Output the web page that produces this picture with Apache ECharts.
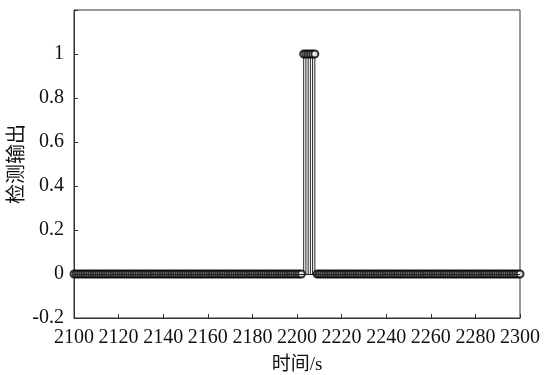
<!DOCTYPE html>
<html>
<head>
<meta charset="utf-8">
<script src="https://cdn.jsdelivr.net/npm/echarts@6/dist/echarts.min.js"></script>
<style>
  html, body { margin: 0; padding: 0; background: #fff; }
  #chart { width: 553px; height: 375px; }
</style>
</head>
<body>
<div id="chart"></div>
<script>
// sampled once per second, 2100 s .. 2300 s
const startTime = 2100
const sampleStep = 1
const detectOutput = [
    0,0,0,0,0,0,0,0,0,0,0,0,0,0,0,0,0,0,0,0,
    0,0,0,0,0,0,0,0,0,0,0,0,0,0,0,0,0,0,0,0,
    0,0,0,0,0,0,0,0,0,0,0,0,0,0,0,0,0,0,0,0,
    0,0,0,0,0,0,0,0,0,0,0,0,0,0,0,0,0,0,0,0,
    0,0,0,0,0,0,0,0,0,0,0,0,0,0,0,0,0,0,0,0,
    0,0,0,1,1,1,1,1,1,0,0,0,0,0,0,0,0,0,0,0,
    0,0,0,0,0,0,0,0,0,0,0,0,0,0,0,0,0,0,0,0,
    0,0,0,0,0,0,0,0,0,0,0,0,0,0,0,0,0,0,0,0,
    0,0,0,0,0,0,0,0,0,0,0,0,0,0,0,0,0,0,0,0,
    0,0,0,0,0,0,0,0,0,0,0,0,0,0,0,0,0,0,0,0,
    0
]
const xLabel = '时间/s'
const yLabel = '检测输出'

const points = detectOutput.map((v, i) => [startTime + i * sampleStep, v])

const font = '"Liberation Serif", "Noto Sans CJK SC", serif'
const chart = echarts.init(document.getElementById('chart'))

chart.setOption({
    animation: false,
    grid: {
        left: 74, right: 33, top: 10, bottom: 57,
        outerBoundsMode: 'none',
        containLabel: false,
        show: true, borderColor: '#333', borderWidth: 1
    },
    xAxis: {
        type: 'value',
        min: 2100, max: 2300, interval: 20,
        name: xLabel,
        nameLocation: 'middle',
        nameGap: 38,
        nameTextStyle: { fontFamily: font, fontSize: 19, color: '#111' },
        axisLine: { onZero: false, lineStyle: { color: '#333' } },
        axisTick: { inside: true, length: 4, lineStyle: { color: '#333' } },
        axisLabel: {
            fontFamily: font, fontSize: 20, color: '#111', margin: 10,
            formatter: v => String(v)
        },
        splitLine: { show: false }
    },
    yAxis: {
        type: 'value',
        min: -0.2, max: 1.2, interval: 0.2,
        name: yLabel,
        nameLocation: 'middle',
        nameGap: 46,
        nameMoveOverlap: false,
        nameTextStyle: { fontFamily: font, fontSize: 20, color: '#111' },
        axisLine: { lineStyle: { color: '#333' } },
        axisTick: { inside: true, length: 4, lineStyle: { color: '#333' } },
        axisLabel: {
            fontFamily: font, fontSize: 20, color: '#111', margin: 10,
            formatter: v => (Math.abs(v - 1.2) < 1e-9 ? '' : String(Math.round(v * 10) / 10))
        },
        splitLine: { show: false }
    },
    series: [
        {
            // stems
            type: 'bar',
            data: points,
            barWidth: 1,
            itemStyle: { color: '#222' },
            markLine: {
                silent: true,
                symbol: 'none',
                label: { show: false },
                lineStyle: { color: '#222', type: 'solid', width: 1 },
                data: [{ yAxis: 0 }]
            }
        },
        {
            type: 'scatter',
            data: points,
            symbol: 'emptyCircle',
            symbolSize: 7,
            clip: false,
            itemStyle: { color: '#000', borderWidth: 1.2 }
        }
    ]
})
</script>
</body>
</html>
